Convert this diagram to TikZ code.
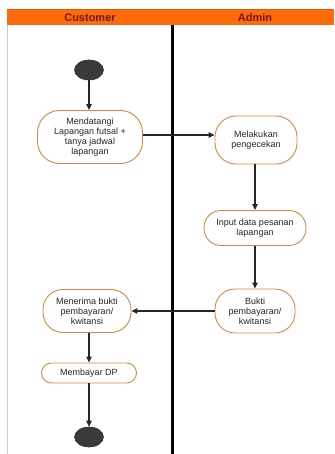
\documentclass[tikz,border=0pt]{standalone}
\usepackage{fontspec}
\setmainfont{Liberation Sans}
\usetikzlibrary{shapes.geometric,arrows.meta}
\definecolor{laneorange}{HTML}{FF6A0A}
\definecolor{lanetext}{HTML}{6E1A08}
\definecolor{actborder}{HTML}{D2893E}
\definecolor{stategray}{HTML}{3A3A3A}
\tikzset{
  act/.style={rectangle, rounded corners=#1, draw=actborder, line width=0.9pt,
    fill=white, align=center, font=\fontsize{9}{10}\selectfont, text=black!85,
    inner xsep=4pt, inner ysep=3pt},
  act/.default=15pt,
  state/.style={ellipse, fill=stategray, draw=black!80, line width=0.6pt,
    minimum width=29pt, minimum height=20pt, inner sep=0pt},
  flow/.style={draw=black!85, line width=1.1pt, -{Triangle[length=6pt,width=5.5pt]}},
  lanehead/.style={font=\bfseries\fontsize{11}{12}\selectfont, text=lanetext}
}
\begin{document}
\begin{tikzpicture}[x=1pt,y=-1pt]
  \useasboundingbox (0,0) rectangle (334,454);
  \fill[white] (0,0) rectangle (334,454);
  % swimlane frame
  \draw[black!20, line width=1.5pt] (7.5,25) -- (7.5,454);
  \fill[laneorange] (7,9) rectangle (334,25.5);
  \draw[black!15!laneorange, line width=0.6pt] (7,9.3) -- (334,9.3);
  \node[lanehead] (custhead) at (90,17.5) {Customer};
  \node[lanehead] (adminhead) at (255,17.5) {Admin};
  \draw[black, line width=3pt] (172,25.5) -- (172,454);
  % activities
  \node[act=22pt, minimum width=105pt, minimum height=53pt] (datang) at (90,137)
    {Mendatangi\\Lapangan futsal +\\tanya jadwal\\lapangan};
  \node[state] (start) at (89,70) {};
  \node[act=21pt, minimum width=82pt, minimum height=48pt] (cek) at (256,140)
    {Melakukan\\pengecekan};
  \node[act=17pt, minimum width=102pt, minimum height=35pt] (input) at (255,228)
    {Input data pesanan\\lapangan};
  \node[act=20pt, minimum width=80pt, minimum height=44pt] (bukti) at (255,311)
    {Bukti\\pembayaran/\\kwitansi};
  \node[act=20pt, minimum width=88pt, minimum height=43pt] (terima) at (87,311)
    {Menerima bukti\\pembayaran/\\kwitansi};
  \node[act=10pt, minimum width=95pt, minimum height=20pt] (dp) at (89,373)
    {Membayar DP};
  \node[state] (end) at (89,437) {};
  % control flow
  \draw[flow] (start) -- (start |- datang.north);
  \draw[flow] (datang.east |- 0,135) -- (cek.west |- 0,135);
  \draw[flow] (cek.south -| input) -- (input);
  \draw[flow] (input) -- (bukti);
  \draw[flow] (bukti.west) -- (terima.east);
  \draw[flow] (terima.south -| dp) -- (dp);
  \draw[flow] (dp) -- (end);
\end{tikzpicture}
\end{document}
